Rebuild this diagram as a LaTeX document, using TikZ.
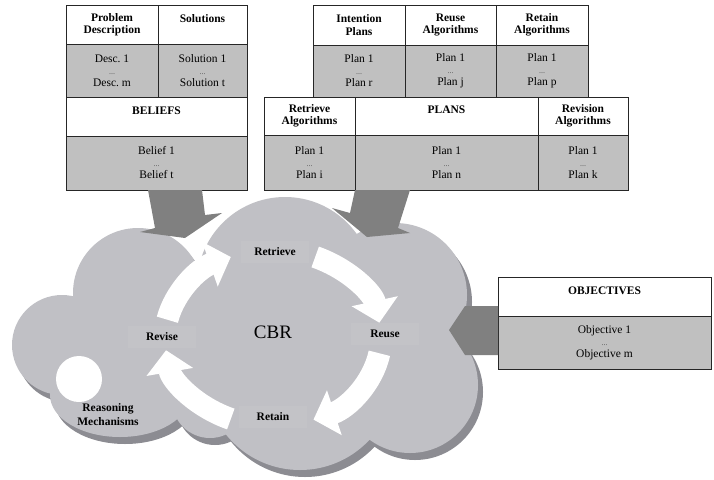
\documentclass[tikz,border=0pt]{standalone}
\usepackage{fontspec}
\setmainfont{Liberation Serif}
\usetikzlibrary{positioning,calc,arrows.meta}
\definecolor{cloudgray}{RGB}{192,192,197}
\definecolor{cloudshade}{RGB}{140,140,146}
\definecolor{arrowgray}{RGB}{128,128,128}
\definecolor{boxgray}{RGB}{192,192,192}
\definecolor{labelgray}{RGB}{195,195,199}
\newcommand{\dotsline}{{\fontsize{6}{6}\selectfont\ldots}}

\begin{document}
\begin{tikzpicture}[x=1pt,y=1pt,node distance=0pt,
hcell/.style={draw=black!85,fill=white,line width=0.8pt,align=center,inner sep=0pt,outer sep=0pt,font=\fontsize{11.5}{12.5}\selectfont\bfseries},
dcell/.style={draw=black!85,fill=boxgray,line width=0.8pt,align=center,inner sep=0pt,outer sep=0pt,font=\fontsize{11.5}{12}\selectfont},
cycleword/.style={fill=labelgray,font=\fontsize{11.5}{12}\selectfont\bfseries,minimum width=68pt,minimum height=22pt,inner sep=0pt},
ringarrow/.style={draw=white,line width=22pt,-{Triangle[width=46pt,length=22pt]}},
bigarrow/.style={fill=arrowgray}]
\useasboundingbox (0,0) rectangle (714,-479);
\node[hcell,anchor=north west,minimum width=92pt,minimum height=39pt] (probhead) at (66,-5) {Problem\\Description};
\node[hcell,right=of probhead,minimum width=89pt,minimum height=39pt] (solhead) {Solutions\\~};
\node[dcell,below=of probhead,minimum width=92pt,minimum height=53pt] (probdata) {Desc.~1\\\dotsline\\Desc.~m};
\node[dcell,below=of solhead,minimum width=89pt,minimum height=53pt] (soldata) {Solution~1\\\dotsline\\Solution~t};
\node[hcell,anchor=north west,minimum width=181pt,minimum height=39pt] (belhead) at (probdata.south west) {BELIEFS\\~};
\node[dcell,below=of belhead,minimum width=181pt,minimum height=54pt] (beldata) {Belief~1\\\dotsline\\Belief~t};
\node[hcell,anchor=north west,minimum width=92pt,minimum height=40pt] (intenthead) at (313,-5) {Intention\\Plans};
\node[hcell,right=of intenthead,minimum width=91pt,minimum height=40pt] (reusehead) {Reuse\\Algorithms};
\node[hcell,right=of reusehead,minimum width=92pt,minimum height=40pt] (retainhead) {Retain\\Algorithms};
\node[dcell,below=of intenthead,minimum width=92pt,minimum height=52pt] (intentdata) {Plan~1\\\dotsline\\Plan~r};
\node[dcell,below=of reusehead,minimum width=91pt,minimum height=52pt] (reusedata) {Plan~1\\\dotsline\\Plan~j};
\node[dcell,below=of retainhead,minimum width=92pt,minimum height=52pt] (retaindata) {Plan~1\\\dotsline\\Plan~p};
\node[hcell,anchor=north west,minimum width=91pt,minimum height=38pt] (retrhead) at (264,-97) {Retrieve\\Algorithms};
\node[hcell,right=of retrhead,minimum width=183pt,minimum height=38pt] (planhead) {PLANS\\~};
\node[hcell,right=of planhead,minimum width=90pt,minimum height=38pt] (revhead) {Revision\\Algorithms};
\node[dcell,below=of retrhead,minimum width=91pt,minimum height=55pt] (retrdata) {Plan~1\\\dotsline\\Plan~i};
\node[dcell,below=of planhead,minimum width=183pt,minimum height=55pt] (plandata) {Plan~1\\\dotsline\\Plan~n};
\node[dcell,below=of revhead,minimum width=90pt,minimum height=55pt] (revdata) {Plan~1\\\dotsline\\Plan~k};
\node[hcell,anchor=north west,minimum width=213pt,minimum height=39pt] (objhead) at (498,-277) {OBJECTIVES\\~};
\node[dcell,below=of objhead,minimum width=213pt,minimum height=53pt] (objdata) {Objective~1\\\dotsline\\Objective~m};
\fill[cloudshade,shift={(5,-7)}] (62,-345) circle (50) (138,-293) circle (65) (285,-285) circle (88) (395,-295) circle (72) (410,-385) circle (68) (300,-375) circle (95) (120,-395) ellipse (70 and 42) (210,-400) circle (38) (250,-345) ellipse (150 and 75);
\fill[cloudgray] (62,-345) circle (50) (138,-293) circle (65) (285,-285) circle (88) (395,-295) circle (72) (410,-385) circle (68) (300,-375) circle (95) (120,-395) ellipse (70 and 42) (210,-400) circle (38) (250,-345) ellipse (150 and 75);
\fill[bigarrow] ($(beldata.south west)+(82,0)$) -- ++(54,0) -- ++(3,-25) -- ++(17,2) -- ++(-37,-25) -- ++(-45,6) -- ++(15,4) -- cycle;
\fill[bigarrow] (plandata.south west) -- ++(55,0) -- ++(-12,-38) -- ++(12,-5) -- ++(-43,-4) -- ++(-35,29) -- ++(18,-5) -- cycle;
\fill[bigarrow] ($(objhead.south west)+(0,10)$) -- ++(-33,0) -- ++(-16,-24) -- ++(16,-25) -- ++(33,0) -- cycle;
\node[circle,fill=white,minimum size=46pt,inner sep=0pt] (mech) at (79,-379) {};
\node[font=\fontsize{11.5}{14}\selectfont\bfseries,align=center] (reason) at (108,-415) {Reasoning\\Mechanisms};
\node[font=\fontsize{19}{22}\selectfont] (cbr) at (273,-332) {CBR};
\coordinate (ring) at (273,-338);
\node[cycleword] (retrieve) at (275,-252) {Retrieve};
\node[cycleword] (reuse) at (385,-334) {Reuse};
\node[cycleword] (retain) at (273,-417) {Retain};
\node[cycleword] (revise) at (162,-337) {Revise};
\draw[ringarrow] ($(ring)+(168:108 and 88)$) arc[start angle=168,end angle=113,x radius=108,y radius=88];
\draw[ringarrow] ($(ring)+(67:108 and 88)$) arc[start angle=67,end angle=10,x radius=108,y radius=88];
\draw[ringarrow] ($(ring)+(-10:108 and 88)$) arc[start angle=-10,end angle=-68,x radius=108,y radius=88];
\draw[ringarrow] ($(ring)+(-113:108 and 88)$) arc[start angle=-113,end angle=-172,x radius=108,y radius=88];
\end{tikzpicture}
\end{document}
